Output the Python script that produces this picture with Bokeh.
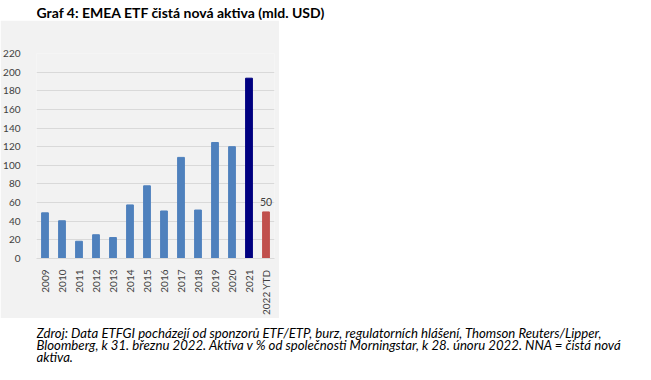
import math
from bokeh.plotting import figure
from bokeh.layouts import column
from bokeh.models import Range1d, FactorRange, ColumnDataSource
from bokeh.embed import file_html
from bokeh.resources import INLINE
from bokeh.core.properties import value

# ---- data ----
title_text = "Graf 4: EMEA ETF čistá nová aktiva (mld. USD)"
years = ["2009", "2010", "2011", "2012", "2013", "2014", "2015", "2016",
         "2017", "2018", "2019", "2020", "2021", "2022 YTD"]
net_assets = [49, 40.5, 18.5, 25.5, 22.5, 57.5, 78, 51, 108.5, 52, 124.5, 120, 193.5, 50]
bar_colors = ["#4f81bd"] * 12 + ["#000080", "#c0504d"]
y_ticks = [0, 20, 40, 60, 80, 100, 120, 140, 160, 180, 200, 220]
highlight_label = ["50"]
footnote_lines = [
    "Zdroj: Data ETFGI pocházejí od sponzorů ETF/ETP, burz, regulatorních hlášení, Thomson Reuters/Lipper,",
    "Bloomberg, k 31. březnu 2022. Aktiva v % od společnosti Morningstar, k 28. únoru 2022. NNA = čistá nová",
    "aktiva.",
]

W = 635
FONT = "Lato"
TITLE_H, CHART_W, CHART_H, FOOT_H = 20, 279, 298, 46


def text_strip(height):
    f = figure(width=W, height=height, x_range=Range1d(0, W), y_range=Range1d(height, 0),
               x_axis_type=None, y_axis_type=None, output_backend="svg",
               toolbar_location=None, min_border=0)
    f.outline_line_color = None
    f.xgrid.grid_line_color = None
    f.ygrid.grid_line_color = None
    f.background_fill_color = "white"
    f.border_fill_color = "white"
    return f


# title
t = text_strip(TITLE_H)
t.text(x=[0], y=[12], text=[title_text], text_font=value(FONT), text_font_style="bold",
       text_font_size="14px", text_color="black", text_baseline="alphabetic")

# chart
p = figure(width=CHART_W, height=CHART_H, x_range=FactorRange(*years, range_padding=0),
           y_range=Range1d(0, 220), output_backend="svg", toolbar_location=None,
           min_border_left=28, min_border_right=5, min_border_top=33, min_border_bottom=58)
p.background_fill_color = "#f2f2f2"
p.border_fill_color = "#f2f2f2"
p.outline_line_color = None

src = ColumnDataSource(dict(year=years, val=net_assets, color=bar_colors))
p.vbar(x="year", top="val", width=0.4, color="color", source=src)
p.text(x=[years[-1]], y=[net_assets[-1]], text=highlight_label, text_align="center",
       text_baseline="bottom", y_offset=-6, text_font=value(FONT),
       text_font_size="10.5px", text_color="#404040")

p.xgrid.grid_line_color = None
p.ygrid.grid_line_color = "#d9d9d9"
p.yaxis.ticker = y_ticks
p.yaxis.axis_line_color = None
p.yaxis.major_tick_line_color = None
p.yaxis.minor_tick_line_color = None
p.yaxis.major_label_standoff = 10
p.xaxis.axis_line_color = "#d9d9d9"
p.xaxis.major_tick_line_color = None
p.xaxis.minor_tick_line_color = None
p.xaxis.major_label_orientation = math.pi / 2
p.xaxis.major_label_standoff = 5
for ax in (p.xaxis, p.yaxis):
    ax.major_label_text_font = FONT
    ax.major_label_text_font_size = "10px"
    ax.major_label_text_color = "#404040"

# footnote
fn = text_strip(FOOT_H)
fn.text(x=[0] * len(footnote_lines), y=[14 + i * 12.3 for i in range(len(footnote_lines))],
        text=footnote_lines, text_font=value(FONT), text_font_style="italic",
        text_font_size="13.2px", text_color="black", text_baseline="alphabetic")

layout = column(t, p, fn, spacing=0)
open("out.html", "w").write(file_html(layout, INLINE))
